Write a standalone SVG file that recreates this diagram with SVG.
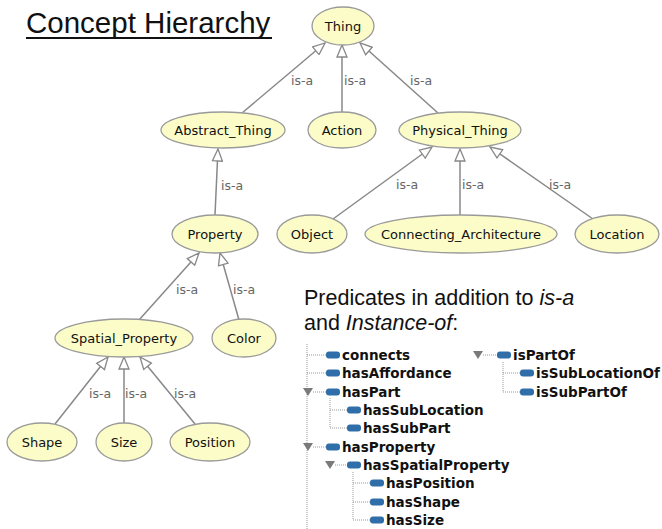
<svg xmlns="http://www.w3.org/2000/svg" width="662" height="529" viewBox="0 0 662 529">
<style>
.node ellipse{fill:#fcfcc8;stroke:#9a9a9a;stroke-width:1.3}
.node text{font-family:"DejaVu Sans",sans-serif;font-size:13px;fill:#111;text-anchor:middle}
.edge{stroke:#888;stroke-width:1.5;fill:none;marker-end:url(#tri)}
.lbl{font-family:"DejaVu Sans",sans-serif;font-size:12.5px;fill:#666}
.tr text{font-family:"DejaVu Sans",sans-serif;font-size:13.5px;font-weight:bold;fill:#111}
.ic{fill:#2f6ea8}
.dot{stroke:#999;stroke-width:1;stroke-dasharray:1,1;fill:none}
.exp{fill:#7a7a7a}
.h{font-family:"Liberation Sans",Arial,sans-serif;fill:#111}
</style>
<defs>
<marker id="tri" viewBox="0 0 14 12" refX="13" refY="6" markerWidth="14" markerHeight="12" markerUnits="userSpaceOnUse" orient="auto">
<path d="M1,1 L13,6 L1,11 Z" fill="#fff" stroke="#888" stroke-width="1.3"/>
</marker>
</defs>
<rect width="662" height="529" fill="#fff"/>
<text class="h" x="26" y="33" font-size="29.5">Concept Hierarchy</text>
<rect x="26" y="37" width="246" height="2" fill="#111"/>
<g id="connectors">
<line class="edge" x1="242" y1="113" x2="325" y2="43"/>
<line class="edge" x1="342" y1="112" x2="342" y2="45"/>
<line class="edge" x1="438" y1="113" x2="360" y2="43"/>
<line class="edge" x1="215" y1="215" x2="218" y2="149"/>
<line class="edge" x1="333" y1="219" x2="432" y2="147"/>
<line class="edge" x1="460" y1="215" x2="460" y2="149"/>
<line class="edge" x1="593" y1="219" x2="490" y2="147"/>
<line class="edge" x1="139" y1="320" x2="199" y2="253"/>
<line class="edge" x1="239" y1="320" x2="220" y2="253"/>
<line class="edge" x1="55" y1="424" x2="108" y2="357"/>
<line class="edge" x1="124" y1="423" x2="124" y2="357"/>
<line class="edge" x1="195" y1="424" x2="140" y2="357"/>
<text class="lbl" x="291" y="85">is-a</text>
<text class="lbl" x="344" y="85">is-a</text>
<text class="lbl" x="410" y="85">is-a</text>
<text class="lbl" x="221" y="190">is-a</text>
<text class="lbl" x="396" y="189">is-a</text>
<text class="lbl" x="462" y="189">is-a</text>
<text class="lbl" x="549" y="189">is-a</text>
<text class="lbl" x="176" y="294">is-a</text>
<text class="lbl" x="233" y="294">is-a</text>
<text class="lbl" x="89" y="398">is-a</text>
<text class="lbl" x="125" y="398">is-a</text>
<text class="lbl" x="174" y="398">is-a</text>
</g>
<g id="n-thing" class="node"><ellipse cx="343" cy="26" rx="31" ry="19"/><text x="343" y="30.5">Thing</text></g>
<g id="n-abstract" class="node"><ellipse cx="223" cy="130" rx="62" ry="18"/><text x="223" y="134.5">Abstract_Thing</text></g>
<g id="n-action" class="node"><ellipse cx="342" cy="130" rx="34" ry="18"/><text x="342" y="134.5">Action</text></g>
<g id="n-physical" class="node"><ellipse cx="460" cy="130" rx="61" ry="18"/><text x="460" y="134.5">Physical_Thing</text></g>
<g id="n-property" class="node"><ellipse cx="215" cy="234" rx="43" ry="19"/><text x="215" y="238.5">Property</text></g>
<g id="n-object" class="node"><ellipse cx="312" cy="234" rx="35" ry="19"/><text x="312" y="238.5">Object</text></g>
<g id="n-conn" class="node"><ellipse cx="461" cy="234" rx="96" ry="19"/><text x="461" y="238.5">Connecting_Architecture</text></g>
<g id="n-location" class="node"><ellipse cx="617" cy="234" rx="42" ry="19"/><text x="617" y="238.5">Location</text></g>
<g id="n-spatial" class="node"><ellipse cx="124" cy="338" rx="69" ry="19"/><text x="124" y="342.5">Spatial_Property</text></g>
<g id="n-color" class="node"><ellipse cx="244" cy="338" rx="32" ry="19"/><text x="244" y="342.5">Color</text></g>
<g id="n-shape" class="node"><ellipse cx="42" cy="442" rx="35" ry="19"/><text x="42" y="446.5">Shape</text></g>
<g id="n-size" class="node"><ellipse cx="124" cy="442" rx="28" ry="19"/><text x="124" y="446.5">Size</text></g>
<g id="n-position" class="node"><ellipse cx="210" cy="442" rx="40" ry="19"/><text x="210" y="446.5">Position</text></g>
<g id="predicates">
<text class="h" x="304" y="305" font-size="21.5">Predicates in addition to <tspan font-style="italic">is-a</tspan></text>
<text class="h" x="304" y="330" font-size="21.5">and <tspan font-style="italic">Instance-of</tspan>:</text>
<g class="tr">
<path class="dot" d="M307,344 V529 M307,355 H326 M307,373 H326 M313,392 H326 M313,447 H326 M330,398 V428 H347 M330,410 H347 M335,465 H347 M353,472 V520 H370 M353,483 H370 M353,502 H370 M483,355 H497 M503,362 V392 H520 M503,373 H520"/>
<path class="exp" d="M303,388 H313 L308,396 Z M303,443 H313 L308,451 Z M325,461 H335 L330,469 Z M473,351 H483 L478,359 Z"/>
<rect class="ic" x="326" y="351.5" width="14" height="7" rx="3"/><text x="342" y="360">connects</text>
<rect class="ic" x="326" y="369.5" width="14" height="7" rx="3"/><text x="342" y="378">hasAffordance</text>
<rect class="ic" x="326" y="388.5" width="14" height="7" rx="3"/><text x="342" y="397">hasPart</text>
<rect class="ic" x="347" y="406.5" width="14" height="7" rx="3"/><text x="363" y="415">hasSubLocation</text>
<rect class="ic" x="347" y="424.5" width="14" height="7" rx="3"/><text x="363" y="433">hasSubPart</text>
<rect class="ic" x="326" y="443.5" width="14" height="7" rx="3"/><text x="342" y="452">hasProperty</text>
<rect class="ic" x="347" y="461.5" width="14" height="7" rx="3"/><text x="363" y="470">hasSpatialProperty</text>
<rect class="ic" x="370" y="479.5" width="14" height="7" rx="3"/><text x="386" y="488">hasPosition</text>
<rect class="ic" x="370" y="498.5" width="14" height="7" rx="3"/><text x="386" y="507">hasShape</text>
<rect class="ic" x="370" y="516.5" width="14" height="7" rx="3"/><text x="386" y="525">hasSize</text>
<rect class="ic" x="497" y="351.5" width="14" height="7" rx="3"/><text x="513" y="360">isPartOf</text>
<rect class="ic" x="520" y="369.5" width="14" height="7" rx="3"/><text x="536" y="378">isSubLocationOf</text>
<rect class="ic" x="520" y="388.5" width="14" height="7" rx="3"/><text x="536" y="397">isSubPartOf</text>
</g>
</g>
</svg>
